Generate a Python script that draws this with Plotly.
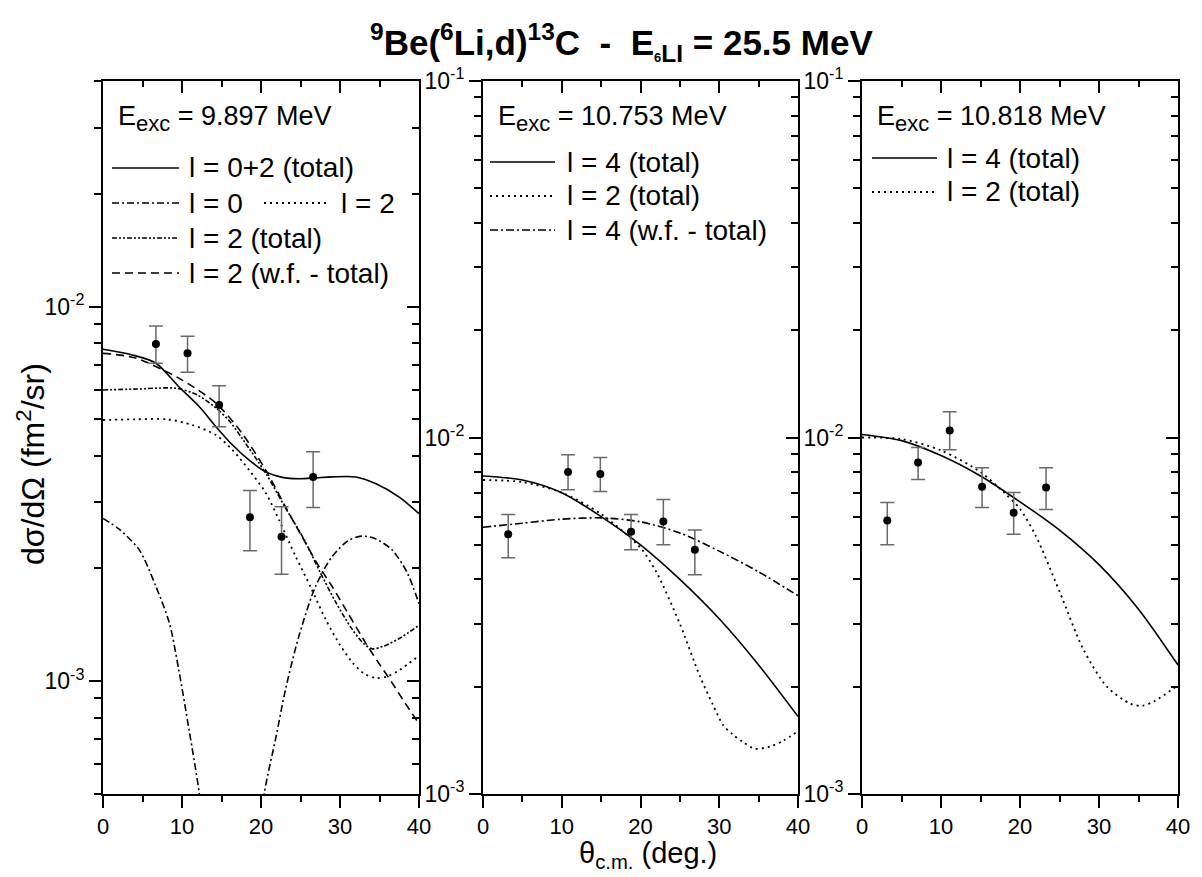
import plotly.graph_objects as go
import numpy as np

W, H = 1202, 877
OFF = 8                      # the page body adds an 8px margin
FW, FH = W - OFF, H - OFF    # figure size so that it ends at the window edge
FONT = "Liberation Sans"

# ---------------- data ----------------
# Panel 1: E_exc = 9.897 MeV
p1_theta_pts = [6.7, 10.7, 14.7, 18.6, 22.6, 26.6]
p1_sigma_pts = [7.94e-3, 7.50e-3, 5.46e-3, 2.74e-3, 2.43e-3, 3.51e-3]
p1_err_hi = [8.87e-3, 8.33e-3, 6.15e-3, 3.23e-3, 2.92e-3, 4.10e-3]
p1_err_lo = [7.06e-3, 6.68e-3, 4.78e-3, 2.23e-3, 1.93e-3, 2.91e-3]

p1_tot_theta = [0, 3.7, 6.7, 9.6, 12.2, 14.3, 16.4, 18.5, 20.6, 22.7, 24.8, 27.0, 29.0, 32.0, 34.5, 37.5, 40]
p1_tot_sigma = [7.69e-3, 7.43e-3, 7.06e-3, 6.11e-3, 5.40e-3, 4.78e-3, 4.27e-3, 3.89e-3, 3.62e-3, 3.50e-3, 3.47e-3, 3.49e-3, 3.51e-3, 3.51e-3, 3.37e-3, 3.10e-3, 2.80e-3]

p1_l0_theta = [0, 2.0, 4.6, 6.7, 8.4, 9.6, 10.9, 12.2, 13.5, 15.5, 17.5, 19.0, 20.4, 21.9, 23.1, 24.8, 26.9, 29.0, 31.0, 32.7, 34.5, 36.6, 38.5, 40]
p1_l0_sigma = [2.72e-3, 2.55e-3, 2.24e-3, 1.79e-3, 1.43e-3, 1.07e-3, 7.4e-4, 5.0e-4, 2.8e-4, 1.2e-4, 1.2e-4, 2.8e-4, 5.0e-4, 7.1e-4, 9.5e-4, 1.32e-3, 1.79e-3, 2.15e-3, 2.37e-3, 2.44e-3, 2.40e-3, 2.24e-3, 1.95e-3, 1.61e-3]

p1_l2_theta = [0, 4, 8.2, 11.3, 14.3, 16.4, 18.5, 20.6, 22.3, 24.4, 26.3, 28.2, 30.0, 31.6, 33.0, 34.5, 36.0, 37.5, 40]
p1_l2_sigma = [4.98e-3, 5.0e-3, 5.0e-3, 4.83e-3, 4.54e-3, 4.14e-3, 3.66e-3, 3.18e-3, 2.69e-3, 2.15e-3, 1.78e-3, 1.46e-3, 1.25e-3, 1.12e-3, 1.05e-3, 1.02e-3, 1.03e-3, 1.07e-3, 1.17e-3]

p1_l2t_theta = [0, 4, 9.3, 12.0, 14.3, 16.0, 17.6, 20.6, 23.1, 25.5, 27.5, 29.5, 31.5, 33.0, 34.1, 35.5, 37.5, 40]
p1_l2t_sigma = [5.99e-3, 6.02e-3, 6.05e-3, 5.80e-3, 5.36e-3, 4.95e-3, 4.45e-3, 3.59e-3, 2.90e-3, 2.38e-3, 1.95e-3, 1.62e-3, 1.38e-3, 1.26e-3, 1.22e-3, 1.24e-3, 1.30e-3, 1.41e-3]

p1_wf_theta = [0, 4, 9.6, 14.3, 17.6, 20.6, 23.1, 25.2, 27.0, 29.0, 31.0, 33.3, 35.0, 36.6, 38.0, 40]
p1_wf_sigma = [7.5e-3, 7.3e-3, 6.44e-3, 5.52e-3, 4.59e-3, 3.66e-3, 2.92e-3, 2.43e-3, 2.08e-3, 1.79e-3, 1.52e-3, 1.26e-3, 1.11e-3, 9.9e-4, 8.9e-4, 7.7e-4]

# Panel 2: E_exc = 10.753 MeV
p2_theta_pts = [3.2, 10.8, 14.9, 18.8, 22.9, 26.9]
p2_sigma_pts = [5.35e-3, 8.0e-3, 7.9e-3, 5.44e-3, 5.81e-3, 4.84e-3]
p2_err_hi = [6.08e-3, 8.95e-3, 8.79e-3, 6.08e-3, 6.70e-3, 5.50e-3]
p2_err_lo = [4.60e-3, 7.14e-3, 7.05e-3, 4.84e-3, 5.00e-3, 4.12e-3]

p2_l4_theta = [0, 5, 10, 15, 20, 25, 30, 35, 40]
p2_l4_sigma = [7.8e-3, 7.6e-3, 7.0e-3, 6.0e-3, 5.0e-3, 4.0e-3, 3.1e-3, 2.3e-3, 1.65e-3]
p2_l2_theta = [0, 5, 10, 15, 20, 22, 25, 27.5, 29.2, 30.5, 31.7, 33.0, 34.5, 36.5, 38.1, 40]
p2_l2_sigma = [7.6e-3, 7.5e-3, 7.0e-3, 6.1e-3, 4.9e-3, 4.2e-3, 3.0e-3, 2.15e-3, 1.78e-3, 1.56e-3, 1.47e-3, 1.40e-3, 1.34e-3, 1.36e-3, 1.41e-3, 1.50e-3]
p2_wf_theta = [0, 5, 10, 15, 20, 25, 30, 35, 40]
p2_wf_sigma = [5.6e-3, 5.75e-3, 5.9e-3, 5.95e-3, 5.8e-3, 5.4e-3, 4.8e-3, 4.2e-3, 3.6e-3]

# Panel 3: E_exc = 10.818 MeV
p3_theta_pts = [3.2, 7.1, 11.1, 15.2, 19.2, 23.3]
p3_sigma_pts = [5.85e-3, 8.51e-3, 1.047e-2, 7.28e-3, 6.15e-3, 7.24e-3]
p3_err_hi = [6.57e-3, 9.38e-3, 1.18e-2, 8.23e-3, 7.01e-3, 8.23e-3]
p3_err_lo = [5.00e-3, 7.62e-3, 9.24e-3, 6.36e-3, 5.35e-3, 6.28e-3]

p3_l4_theta = [0, 5, 10, 15, 20, 25, 30, 35, 40]
p3_l4_sigma = [1.02e-2, 9.8e-3, 8.9e-3, 7.8e-3, 6.6e-3, 5.5e-3, 4.4e-3, 3.3e-3, 2.3e-3]
p3_l2_theta = [0, 5, 10, 15, 18, 20, 22, 25, 28, 31, 34, 35.5, 37, 40]
p3_l2_sigma = [1.0e-2, 9.9e-3, 9.2e-3, 8.0e-3, 7.0e-3, 6.3e-3, 5.3e-3, 3.7e-3, 2.55e-3, 2.0e-3, 1.79e-3, 1.77e-3, 1.82e-3, 2.02e-3]

x_ticks = [0, 10, 20, 30, 40]
panel_labels = ["9.897", "10.753", "10.818"]

# ---------------- layout helpers ----------------
def px(x):
    return (x - OFF) / FW

def py(y):
    return 1 - (y - OFF) / FH

PLOT_TOP, PLOT_BOT = 81, 794
panels_px = [(103, 419), (483, 798), (862, 1178)]
yranges = [[np.log10(5e-4), np.log10(4e-2)], [-3, -1], [-3, -1]]

DASH = {
    "solid": "solid",
    "l0": "7px,3px,2px,3px",
    "dot": "2px,4px",
    "l2t": "5px,2px,2px,2px,2px,2px",
    "wf": "8px,5px",
    "dd": "8px,3px,2px,3px",
}

fig = go.Figure()

def add_curve(i, xs, ys, dash, width=1.6):
    ax = "" if i == 0 else str(i + 1)
    fig.add_trace(go.Scatter(x=xs, y=ys, mode="lines", xaxis="x" + ax, yaxis="y" + ax,
                             line=dict(color="black", width=width, dash=DASH[dash], shape="spline", smoothing=0.8),
                             showlegend=False, hoverinfo="skip"))

def add_points(i, xs, ys, hi, lo):
    ax = "" if i == 0 else str(i + 1)
    fig.add_trace(go.Scatter(x=xs, y=ys, mode="markers", xaxis="x" + ax, yaxis="y" + ax,
                             marker=dict(color="black", size=8),
                             error_y=dict(type="data", symmetric=False,
                                          array=[h - v for h, v in zip(hi, ys)],
                                          arrayminus=[v - l for l, v in zip(lo, ys)],
                                          color="#6a6a6a", thickness=1.5, width=7),
                             showlegend=False, hoverinfo="skip"))

# panel 1
add_curve(0, p1_l0_theta, p1_l0_sigma, "l0")
add_curve(0, p1_l2_theta, p1_l2_sigma, "dot", 1.8)
add_curve(0, p1_l2t_theta, p1_l2t_sigma, "l2t")
add_curve(0, p1_wf_theta, p1_wf_sigma, "wf")
add_curve(0, p1_tot_theta, p1_tot_sigma, "solid")
add_points(0, p1_theta_pts, p1_sigma_pts, p1_err_hi, p1_err_lo)
# panel 2
add_curve(1, p2_l2_theta, p2_l2_sigma, "dot", 1.8)
add_curve(1, p2_wf_theta, p2_wf_sigma, "dd")
add_curve(1, p2_l4_theta, p2_l4_sigma, "solid")
add_points(1, p2_theta_pts, p2_sigma_pts, p2_err_hi, p2_err_lo)
# panel 3
add_curve(2, p3_l2_theta, p3_l2_sigma, "dot", 1.8)
add_curve(2, p3_l4_theta, p3_l4_sigma, "solid")
add_points(2, p3_theta_pts, p3_sigma_pts, p3_err_hi, p3_err_lo)

# empty traces so that the mirror (top / right) axes are drawn
for n in range(4, 7):
    fig.add_trace(go.Scatter(x=[], y=[], xaxis=f"x{n}", yaxis=f"y{n}", showlegend=False, hoverinfo="skip"))

tickfont = dict(family=FONT, size=22, color="black")
ytickfont = dict(family=FONT, size=23, color="black")
layout = dict(template="none", width=FW, height=FH,
              margin=dict(l=0, r=0, t=0, b=0, pad=0, autoexpand=False),
              plot_bgcolor="white", paper_bgcolor="white", showlegend=False)

for i, (x0, x1) in enumerate(panels_px):
    n = i + 1
    xa = "xaxis" if n == 1 else f"xaxis{n}"
    ya = "yaxis" if n == 1 else f"yaxis{n}"
    xname = "x" if n == 1 else f"x{n}"
    yname = "y" if n == 1 else f"y{n}"
    dom_x = [px(x0), px(x1)]
    dom_y = [py(PLOT_BOT), py(PLOT_TOP)]
    lo, hi = yranges[i]
    majors = [10.0 ** k for k in range(-4, 0) if lo - 1e-9 <= k <= hi + 1e-9]
    minors = [m * 10.0 ** k for k in range(-4, 0) for m in range(2, 10)
              if lo <= np.log10(m * 10.0 ** k) <= hi]
    ttext = [f"10<sup>{int(round(np.log10(v)))}</sup>" for v in majors]
    common_x = dict(domain=dom_x, range=[0, 40], showgrid=False, zeroline=False, automargin=False,
                    showline=True, linecolor="black", linewidth=2,
                    tickmode="array", tickvals=x_ticks, ticklen=12, tickwidth=2, tickcolor="black",
                    minor=dict(dtick=5, tick0=0, ticklen=6, tickwidth=2, tickcolor="black", showgrid=False))
    layout[xa] = dict(common_x, anchor=yname, side="bottom", ticks="outside",
                      tickfont=tickfont, ticktext=[str(v) for v in x_ticks])
    layout[xa]["minor"] = dict(common_x["minor"], ticks="outside")
    layout[f"xaxis{n + 3}"] = dict(common_x, anchor=f"y{n + 3}", overlaying=xname, side="top",
                                   ticks="inside", showticklabels=False)
    layout[f"xaxis{n + 3}"]["minor"] = dict(common_x["minor"], ticks="inside")
    common_y = dict(domain=dom_y, type="log", range=[lo, hi], showgrid=False, zeroline=False, automargin=False,
                    showline=True, linecolor="black", linewidth=2,
                    tickmode="array", tickvals=majors, ticklen=12, tickwidth=2, tickcolor="black",
                    minor=dict(tickmode="array", tickvals=minors, ticklen=7, tickwidth=2,
                               tickcolor="black", showgrid=False))
    layout[ya] = dict(common_y, anchor=xname, side="left", ticks="outside",
                      ticktext=ttext, tickfont=ytickfont)
    layout[ya]["minor"] = dict(common_y["minor"], ticks="outside")
    layout[f"yaxis{n + 3}"] = dict(common_y, anchor=f"x{n + 3}", overlaying=yname, side="right",
                                   ticks="inside", showticklabels=False)
    layout[f"yaxis{n + 3}"]["minor"] = dict(common_y["minor"], ticks="inside")

fig.update_layout(**layout)

ann = []
shapes = []

def text(x, y, s, size=28, xanchor="left", yanchor="middle", angle=0):
    ann.append(dict(x=px(x), y=py(y), xref="paper", yref="paper", text=s, showarrow=False,
                    xanchor=xanchor, yanchor=yanchor, textangle=angle,
                    font=dict(family=FONT, size=size, color="black")))

def sample(x0, x1, y, dash, width=1.6):
    shapes.append(dict(type="line", xref="paper", yref="paper", x0=px(x0), x1=px(x1), y0=py(y), y1=py(y),
                       line=dict(color="black", width=width, dash=DASH[dash])))

# title
text(621, 42, "<b><sup>9</sup>Be(<sup>6</sup>Li,d)<sup>13</sup>C  -  E<sub><span style='font-size:13px'>6</span>LI</sub> = 25.5 MeV</b>",
     size=35, xanchor="center")
# axis titles
text(31, 464, "dσ/dΩ (fm<sup>2</sup>/sr)", size=32, xanchor="center", angle=-90)
text(648, 855, "θ<sub>c.m.</sub> (deg.)", size=29, xanchor="center")

# panel headers
for (x0, x1), e in zip(panels_px, panel_labels):
    text(x0 + 13, 119, f"E<sub><span style='font-size:22px'>exc</span></sub> = {e} MeV", size=27)

# legend panel 1
sample(112, 179, 168, "solid"); text(187, 168, "l = 0+2 (total)")
sample(112, 179, 203, "l0"); text(187, 203, "l = 0")
sample(264, 329, 203, "dot", 1.8); text(339, 203, "l = 2")
sample(112, 179, 238, "l2t"); text(187, 238, "l = 2 (total)")
sample(112, 179, 273, "wf"); text(187, 273, "l = 2 (w.f. - total)")
# legend panel 2
sample(490, 555, 162, "solid"); text(565, 162, "l = 4 (total)")
sample(490, 555, 196, "dot", 1.8); text(565, 196, "l = 2 (total)")
sample(490, 555, 230, "dd"); text(565, 230, "l = 4 (w.f. - total)")
# legend panel 3
sample(872, 937, 158, "solid"); text(945, 158, "l = 4 (total)")
sample(872, 937, 192, "dot", 1.8); text(945, 192, "l = 2 (total)")

fig.update_layout(annotations=ann, shapes=shapes)
fig.write_html("out.html")
